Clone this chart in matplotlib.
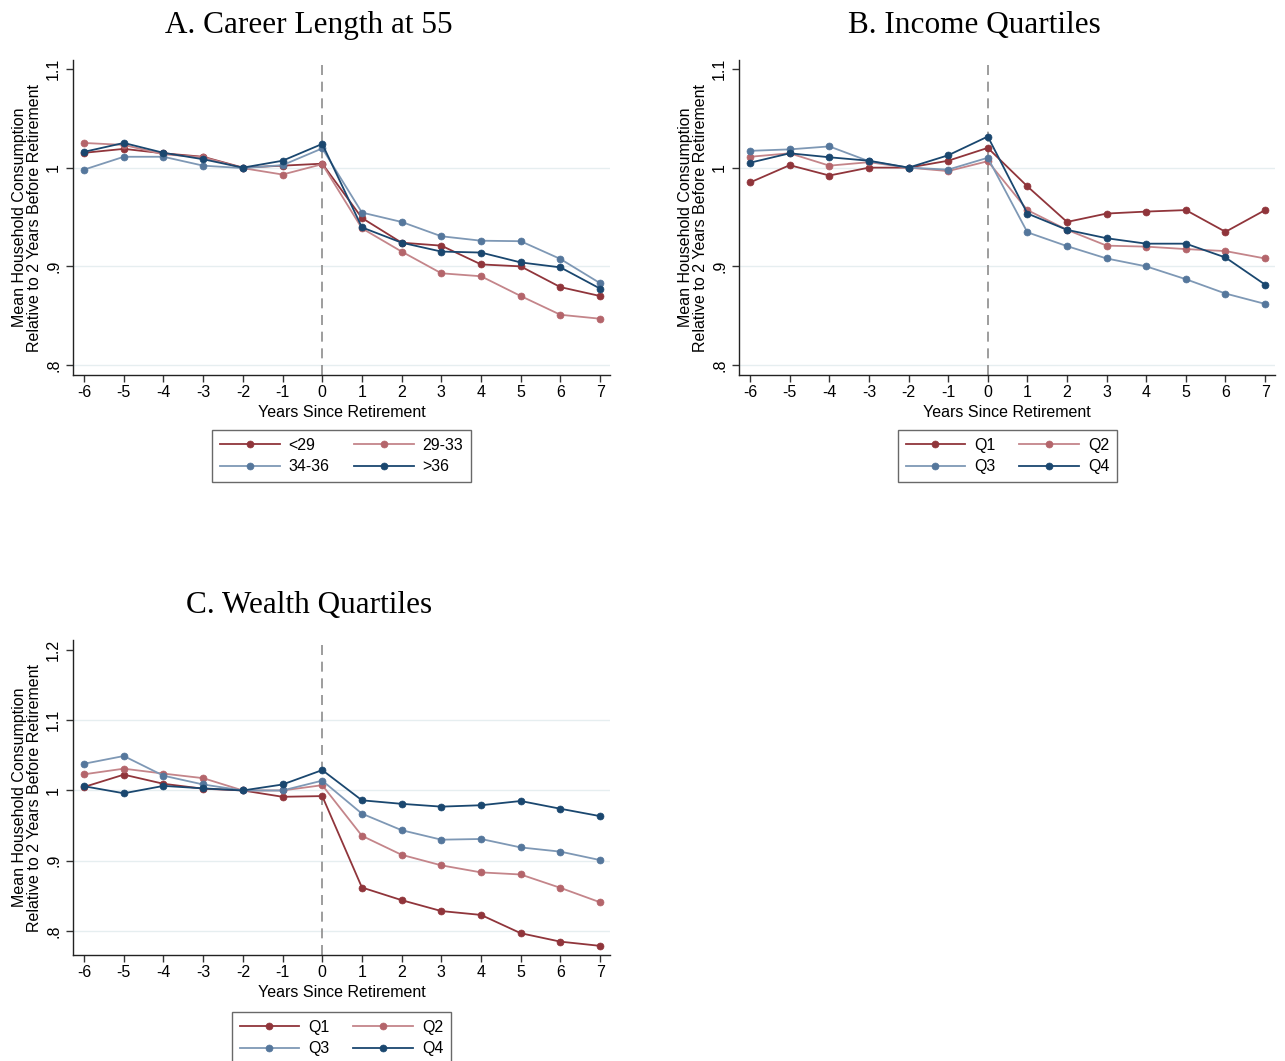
import matplotlib
matplotlib.use("Agg")
import matplotlib.pyplot as plt
import numpy as np

years = list(range(-6, 8))

# A. Career length at 55
career_labels = ["<29", "29-33", "34-36", ">36"]
career_lt29 = [1.015, 1.019, 1.0145, 1.011, 1.0, 1.002, 1.004, 0.949, 0.924, 0.921, 0.902, 0.900, 0.879, 0.870]
career_29_33 = [1.025, 1.023, 1.0135, 1.0105, 0.9995, 0.993, 1.0035, 0.9385, 0.915, 0.893, 0.890, 0.870, 0.851, 0.847]
career_34_36 = [0.998, 1.011, 1.011, 1.002, 0.9995, 1.0025, 1.0195, 0.9545, 0.945, 0.9305, 0.926, 0.9255, 0.9075, 0.883]
career_gt36 = [1.016, 1.025, 1.015, 1.0085, 1.0, 1.007, 1.024, 0.9395, 0.924, 0.915, 0.914, 0.904, 0.899, 0.8775]

# B. Income quartiles
income_labels = ["Q1", "Q2", "Q3", "Q4"]
income_q1 = [0.985, 1.0025, 0.992, 1.0, 1.0, 1.007, 1.020, 0.981, 0.945, 0.9535, 0.9555, 0.957, 0.935, 0.957]
income_q2 = [1.011, 1.0145, 1.002, 1.0055, 1.0, 0.9965, 1.0065, 0.957, 0.937, 0.921, 0.920, 0.9175, 0.9155, 0.908]
income_q3 = [1.017, 1.0185, 1.0215, 1.0065, 1.0, 0.998, 1.010, 0.9345, 0.9205, 0.908, 0.900, 0.887, 0.8725, 0.862]
income_q4 = [1.005, 1.0145, 1.0105, 1.007, 1.0, 1.0125, 1.0315, 0.9535, 0.937, 0.9285, 0.923, 0.923, 0.909, 0.8815]

# C. Wealth quartiles
wealth_labels = ["Q1", "Q2", "Q3", "Q4"]
wealth_q1 = [1.005, 1.0225, 1.0095, 1.0025, 1.0, 0.991, 0.992, 0.862, 0.844, 0.8285, 0.823, 0.797, 0.785, 0.779]
wealth_q2 = [1.023, 1.031, 1.024, 1.0175, 1.0, 1.0, 1.0075, 0.9355, 0.9085, 0.8935, 0.8835, 0.8805, 0.8615, 0.841]
wealth_q3 = [1.038, 1.049, 1.021, 1.0085, 1.0, 1.0, 1.014, 0.967, 0.9435, 0.930, 0.931, 0.919, 0.913, 0.901]
wealth_q4 = [1.006, 0.996, 1.0065, 1.003, 1.0, 1.0085, 1.029, 0.986, 0.981, 0.977, 0.979, 0.985, 0.974, 0.9635]

line_colors = ["#90353B", "#C4858A", "#7E98B5", "#1A476F"]
marker_colors = ["#90353B", "#B4656B", "#55779C", "#1A476F"]

W, H = 1285, 1061
fig = plt.figure(figsize=(W / 100, H / 100), dpi=100)
fig.patch.set_facecolor("white")

sans = "Liberation Sans"
serif = "Liberation Serif"


def px_rect(x0, y0, x1, y1):
    return [x0 / W, 1 - y1 / H, (x1 - x0) / W, (y1 - y0) / H]


def draw_panel(rect, title, title_xy, series, labels, yticks, ylim, grid_vals, legend_box):
    ax = fig.add_axes(rect)
    for gv in grid_vals:
        ax.axhline(gv, color="#E6EEF0", linewidth=1.0, zorder=0)
    ax.axvline(0, color="#8C8C8C", linestyle=(0, (6, 4)), linewidth=1.2, zorder=1)
    handles = []
    for vals, lab, lc, mc in zip(series, labels, line_colors, marker_colors):
        h, = ax.plot(years, vals, color=lc, linewidth=1.3, marker="o", markersize=5,
                     markerfacecolor=mc, markeredgecolor=mc, markeredgewidth=0.5,
                     label=lab, zorder=3)
        handles.append(h)
    ax.set_xlim(-6.28, 7.25)
    ax.set_ylim(*ylim)
    ax.set_xticks(years)
    ax.set_xticklabels([str(y) for y in years], fontsize=11.5, family=sans)
    ax.set_yticks(yticks)
    ylabs = []
    for t in yticks:
        s = f"{t:g}"
        if s.startswith("0."):
            s = s[1:]
        ylabs.append(s)
    ax.set_yticklabels(ylabs, fontsize=11.5, family=sans, rotation=90, va="center")
    ax.tick_params(axis="both", direction="out", length=5, width=1, color="#333333")
    ax.tick_params(axis="x", pad=2.5)
    ax.spines["top"].set_visible(False)
    ax.spines["right"].set_visible(False)
    for s in ("left", "bottom"):
        ax.spines[s].set_color("#222222")
        ax.spines[s].set_linewidth(1.0)
    ax.set_xlabel("Years Since Retirement", fontsize=11.5, family=sans, labelpad=3)
    ax.set_ylabel("Mean Household Consumption\nRelative to 2 Years Before Retirement",
                  fontsize=11.5, family=sans, labelpad=3, linespacing=1.0)
    fig.text(title_xy[0] / W, 1 - title_xy[1] / H, title, fontsize=22.5, family=serif,
             ha="center", va="baseline")

    # row-major order like the original legend
    order = [0, 2, 1, 3]
    x0, y0, x1, y1 = legend_box
    leg = fig.legend(handles=[handles[i] for i in order], labels=[labels[i] for i in order],
                     ncol=2, loc="center",
                     bbox_to_anchor=((x0 + x1) / 2 / W, 1 - (y0 + y1) / 2 / H),
                     prop={"family": sans, "size": 11.5}, frameon=True, fancybox=False,
                     handlelength=3.75, columnspacing=1.5, handletextpad=0.55,
                     labelspacing=0.4, borderpad=0.5)
    leg.get_frame().set_edgecolor("#444444")
    leg.get_frame().set_linewidth(1.0)
    return ax


draw_panel(px_rect(73, 60, 610, 375), "A. Career Length at 55", (309, 33),
           [career_lt29, career_29_33, career_34_36, career_gt36], career_labels,
           [0.8, 0.9, 1.0, 1.1], (0.79, 1.109), [0.8, 0.9, 1.0], (211, 430, 472, 482))

draw_panel(px_rect(739, 60, 1275, 375), "B. Income Quartiles", (974, 33),
           [income_q1, income_q2, income_q3, income_q4], income_labels,
           [0.8, 0.9, 1.0, 1.1], (0.79, 1.109), [0.8, 0.9, 1.0], (898, 430, 1117, 482))

draw_panel(px_rect(73, 640, 610, 955), "C. Wealth Quartiles", (309, 613),
           [wealth_q1, wealth_q2, wealth_q3, wealth_q4], wealth_labels,
           [0.8, 0.9, 1.0, 1.1, 1.2], (0.766, 1.214), [0.8, 0.9, 1.0, 1.1], (233, 1012, 450, 1064))

fig.savefig("out.png", dpi=100)
